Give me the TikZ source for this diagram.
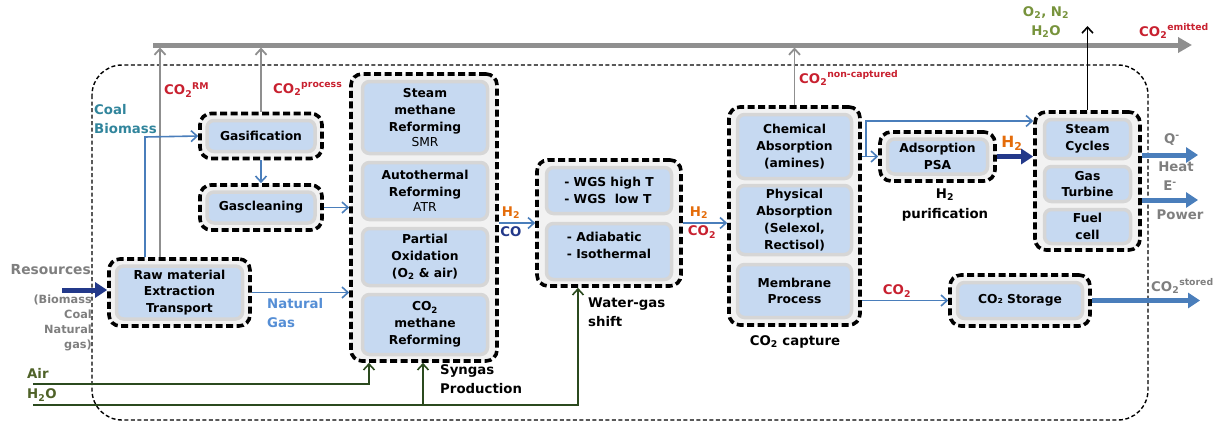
\documentclass[tikz,border=0pt]{standalone}
\usepackage{fontspec}
\setmainfont{DejaVu Sans}
\usetikzlibrary{arrows.meta}
\definecolor{inblue}{HTML}{C6D9F1}
\definecolor{ingray}{HTML}{D6D6D6}
\definecolor{grpfill}{HTML}{F2F2F2}
\definecolor{co2red}{HTML}{C8202F}
\definecolor{lblue}{HTML}{4A7EBB}
\definecolor{dblue}{HTML}{23398A}
\definecolor{coalteal}{HTML}{31859C}
\definecolor{ngblue}{HTML}{558ED5}
\definecolor{h2orange}{HTML}{E46C0A}
\definecolor{lgreen}{HTML}{77933C}
\definecolor{dgreen}{HTML}{2B4A1E}
\definecolor{txtgreen}{HTML}{4F6228}
\definecolor{lgray}{HTML}{8F8F8F}
\definecolor{tgray}{HTML}{7F7F7F}
\newcommand\fsb{\fontsize{12.3}{16.8}\selectfont\bfseries}
\newcommand\fsl{\fontsize{13.3}{19.5}\selectfont\bfseries}
\begin{document}
\begin{tikzpicture}[x=1pt,y=-1pt,
  grp/.style={draw=black, line width=3.6pt, dash pattern=on 7pt off 3.5pt, rounded corners=11pt, fill=grpfill, inner sep=0pt},
  inr/.style={draw=ingray, line width=3.5pt, fill=inblue, rounded corners=7pt, align=center, font=\fsb, inner sep=0pt, text=black},
  lbl/.style={font=\fsl, inner sep=0pt, align=left},
  bline/.style={draw=lblue, line width=1.6pt, -{Straight Barb[length=6pt,width=11pt,line width=1.6pt]}},
  grayup/.style={draw=lgray, line width=1.8pt, -{Straight Barb[length=6pt,width=11pt,line width=1.8pt]}, shorten >=2.5pt},
  garrow/.style={draw=dgreen, line width=1.6pt, -{Straight Barb[length=6pt,width=11pt,line width=1.6pt]}},
  thickb/.style={draw=lblue, line width=5pt, -{Triangle[length=12pt,width=15pt]}},
  thickd/.style={draw=dblue, line width=5pt, -{Triangle[length=12pt,width=15pt]}},
]
\useasboundingbox (0,0) rectangle (1227,423);

% outer dashed frame
\draw[line width=1.4pt, dash pattern=on 4pt off 2.5pt, rounded corners=30pt] (92,65) rectangle (1148,420);

% gray emission line
\coordinate (gl0) at (153,45);
\coordinate (gl1) at (1192,45);
\draw[draw=lgray, line width=5pt, -{Triangle[length=14pt,width=15pt]}] (gl0) -- (gl1);

% ---------- groups ----------
\node[grp, minimum width=122pt, minimum height=45pt] (gasif) at (261,136) {};
\node[inr, minimum width=108pt, minimum height=31pt] (gasifI) at (261,136) {Gasification};

\node[grp, minimum width=122pt, minimum height=45pt] (gascl) at (261,207.5) {};
\node[inr, minimum width=108pt, minimum height=31pt] (gasclI) at (261,207.5) {Gascleaning};

\node[grp, minimum width=141pt, minimum height=67pt] (raw) at (179.5,292.5) {};
\node[inr, minimum width=126pt, minimum height=53pt] (rawI) at (179.5,292.5) {Raw material\\Extraction\\Transport};

\node[grp, minimum width=146pt, minimum height=287pt] (syn) at (424,217.5) {};
\node[inr, minimum width=125pt, minimum height=72pt] (smr) at (425,117.5) {Steam\\methane\\Reforming\\[-2pt]{\mdseries SMR}};
\node[inr, minimum width=125pt, minimum height=57pt] (atr) at (425,191) {Autothermal\\Reforming\\[-2pt]{\mdseries ATR}};
\node[inr, minimum width=125pt, minimum height=57pt] (pox) at (425,257) {Partial\\Oxidation\\(O\textsubscript{2} \& air)};
\node[inr, minimum width=125pt, minimum height=60pt] (cmr) at (425,324.5) {CO\textsubscript{2}\\methane\\Reforming};

\node[grp, minimum width=144pt, minimum height=126pt] (wgs) at (609,223) {};
\node[inr, minimum width=125pt, minimum height=46pt, align=left] (wgs1) at (609,190.5) {- WGS high T\\- WGS\ \ low T};
\node[inr, minimum width=125pt, minimum height=56pt, align=left] (wgs2) at (609,251.5) {- Adiabatic\\- Isothermal\\[-4pt]};

\node[grp, minimum width=131pt, minimum height=218pt] (cap) at (794.5,216) {};
\node[inr, minimum width=114pt, minimum height=64pt] (chem) at (794.5,146.5) {Chemical\\Absorption\\(amines)};
\node[inr, minimum width=114pt, minimum height=69pt] (phys) at (794.5,220) {Physical\\Absorption\\(Selexol,\\Rectisol)};
\node[inr, minimum width=114pt, minimum height=53pt] (memb) at (794.5,291) {Membrane\\Process};

\node[grp, minimum width=115pt, minimum height=49pt] (psa) at (937.5,156.5) {};
\node[inr, minimum width=100pt, minimum height=35pt] (psaI) at (937.5,156.5) {Adsorption\\PSA};

\node[grp, minimum width=105pt, minimum height=138pt] (power) at (1087.5,181) {};
\node[inr, minimum width=86pt, minimum height=39pt] (steam) at (1087.5,139) {Steam\\Cycles};
\node[inr, minimum width=86pt, minimum height=35pt] (gt) at (1087.5,184) {Gas\\Turbine};
\node[inr, minimum width=86pt, minimum height=34pt] (fc) at (1087.5,226.5) {Fuel\\cell};

\node[grp, minimum width=140pt, minimum height=51pt] (store) at (1020,300.5) {};
\node[inr, minimum width=125pt, minimum height=36pt] (storeI) at (1020,300.5) {CO₂ Storage};

% ---------- emission arrows ----------
\coordinate (rmx) at (160,45);
\draw[grayup] (raw.north -| rmx) -- (rmx);
\draw[grayup] (gasif.north) -- (gasif.north |- gl0);
\draw[grayup] (cap.north) -- (cap.north |- gl0);
\coordinate (blk) at (1087.5,26);
\draw[draw=black, line width=1.6pt, -{Straight Barb[length=6pt,width=11pt,line width=1.6pt]}] (power.north) -- (blk);

% ---------- process connectors ----------
\coordinate (cb) at (145,137);
\draw[bline] (raw.north -| cb) -- (cb) -- (gasif.west);
\draw[bline] (gasif.south) -- (gascl.north);
\draw[bline] (gascl.east) -- (gascl.east -| syn.west);
\draw[bline] (raw.east) -- (raw.east -| syn.west);
\draw[bline] (wgs.west -| syn.east) -- (wgs.west);
\draw[bline] (wgs.east) -- (wgs.east -| cap.west);
\coordinate (br) at (866,156.5);
\coordinate (brt) at (866,121);
\draw[bline] (cap.east |- psa.west) -- (psa.west);
\draw[bline] (br) -- (brt) -- (brt -| power.west);
\draw[thickd] (psa.east) -- (psa.east -| power.west);
\coordinate (qo) at (1198,155);
\coordinate (eo) at (1198,200);
\draw[thickb] (qo -| power.east) -- (qo);
\draw[thickb] (eo -| power.east) -- (eo);
\draw[bline] (store.west -| cap.east) -- (store.west);
\coordinate (so) at (1200,300.5);
\draw[thickb] (store.east) -- (so);
\coordinate (res) at (62,290);
\draw[thickd] (res) -- (res -| raw.west);

% air / water
\coordinate (air0) at (33,384);
\coordinate (airx) at (369,0);
\draw[garrow] (air0) -| (syn.south -| airx);
\coordinate (h0) at (33,405);
\coordinate (wx) at (578,0);
\draw[garrow] (h0) -| (wgs.south -| wx);
\coordinate (hb) at (423,405);
\draw[garrow] (hb) -- (hb |- syn.south);

% ---------- labels ----------
\node[lbl, text=co2red, anchor=west] (lrm) at (164,90) {CO\textsubscript{2}\textsuperscript{RM}};
\node[lbl, text=co2red, anchor=west] (lpr) at (273,89) {CO\textsubscript{2}\textsuperscript{process}};
\node[lbl, text=co2red, anchor=west] (lnc) at (799,78) {CO\textsubscript{2}\textsuperscript{non-captured}};
\node[lbl, text=lgreen, align=center] (lon) at (1046,22) {O\textsubscript{2}, N\textsubscript{2}\\H\textsubscript{2}O};
\node[lbl, text=co2red, anchor=west] (lem) at (1139,31) {CO\textsubscript{2}\textsuperscript{emitted}};
\node[lbl, text=coalteal, anchor=west] (lcb) at (94,119) {Coal\\Biomass};
\node[lbl, text=tgray, anchor=east, font=\fontsize{13.8}{16}\selectfont\bfseries] (lres) at (91,270) {Resources};
\node[lbl, text=tgray, anchor=east, align=right, font=\fontsize{11.3}{15}\selectfont\bfseries] (lbio) at (92,323) {(Biomass\\Coal\\Natural\\gas)};
\node[lbl, text=ngblue, anchor=west] (lng) at (267,313) {Natural\\Gas};
\node[lbl, text=txtgreen, anchor=west] (lair) at (27,373) {Air};
\node[lbl, text=txtgreen, anchor=west] (lh2o) at (27,395) {H\textsubscript{2}O};
\node[lbl, anchor=west] (lsyn) at (440,379) {Syngas\\Production};
\node[lbl, anchor=west] (lwgs) at (588,312) {Water-gas\\shift};
\node[lbl] (lcap) at (795,342) {CO\textsubscript{2} capture};
\node[lbl, align=center] (lpur) at (945,205) {H\textsubscript{2}\\purification};
\node[lbl, text=h2orange] (lh1) at (511,213) {H\textsubscript{2}};
\node[lbl, text=dblue] (lco) at (511,232) {CO};
\node[lbl, text=h2orange] (lh2) at (699,213) {H\textsubscript{2}};
\node[lbl, text=co2red] (lco2a) at (702,232) {CO\textsubscript{2}};
\node[lbl, text=h2orange, font=\fontsize{15.5}{18}\selectfont\bfseries] (lh3) at (1012,143) {H\textsubscript{2}};
\node[lbl, text=tgray] (lq) at (1172,140) {Q\textsuperscript{-}};
\node[lbl, text=tgray] (lheat) at (1176,167) {Heat};
\node[lbl, text=tgray] (le) at (1170,186) {E\textsuperscript{-}};
\node[lbl, text=tgray] (lpow) at (1180,215) {Power};
\node[lbl, text=co2red] (lco2b) at (897,291) {CO\textsubscript{2}};
\node[lbl, text=tgray, anchor=west] (lst) at (1151,286) {CO\textsubscript{2}\textsuperscript{stored}};
\end{tikzpicture}
\end{document}
